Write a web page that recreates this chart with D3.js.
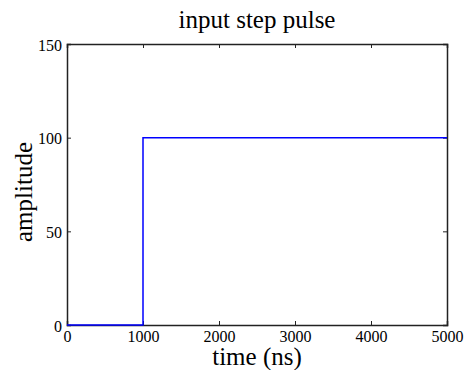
<!DOCTYPE html>
<html>
<head>
<meta charset="utf-8">
<script src="https://cdn.jsdelivr.net/npm/d3@7"></script>
<style>
  body { margin: 0; background: #fff; }
</style>
</head>
<body>
<div id="chart"></div>
<script>
// step pulse data
var timeNs = [0, 1000, 1000, 5000];
var amplitude = [0, 0, 100, 100];
var xTicks = [0, 1000, 2000, 3000, 4000, 5000];
var yTicks = [0, 50, 100, 150];

var W = 464, H = 370;
var serif = "'Liberation Serif', 'Times New Roman', serif";
var margin = { top: 44, right: 17, bottom: 45, left: 67 },
    width = W - margin.left - margin.right,
    height = H - margin.top - margin.bottom;

var svg = d3.select('#chart').append('svg')
    .attr("width", W)
    .attr("height", H)
    .append("g")
    .attr("transform", "translate(" + margin.left + "," + margin.top + ")");

var x = d3.scaleLinear().domain([0, 5000]).range([0, width]);
var y = d3.scaleLinear().domain([0, 150]).range([height, 0]);

// bottom axis with labels, ticks pointing inward
var xAxis = svg.append("g")
    .attr("transform", "translate(0," + height + ")")
    .call(d3.axisBottom(x).tickValues(xTicks).tickSize(-4).tickPadding(6).tickFormat(d3.format("d")));
// left axis
var yAxis = svg.append("g")
    .call(d3.axisLeft(y).tickValues(yTicks).tickSize(-4).tickPadding(5));
// top / right mirrored ticks
var xTop = svg.append("g")
    .call(d3.axisTop(x).tickValues(xTicks).tickSize(-4).tickFormat(""));
var yRight = svg.append("g")
    .attr("transform", "translate(" + width + ",0)")
    .call(d3.axisRight(y).tickValues(yTicks).tickSize(-4).tickFormat(""));

[xAxis, yAxis, xTop, yRight].forEach(function(g) {
    g.attr("font-family", null).attr("font-size", null);
    g.select(".domain").attr("stroke", "#222").attr("stroke-width", 1.5);
    g.selectAll(".tick line").attr("stroke", "#222").attr("stroke-width", 1);
    g.selectAll(".tick text")
        .style("font-family", serif)
        .style("font-size", "16px")
        .attr("fill", "#000");
});
yAxis.selectAll(".tick text").attr("dy", "0.38em");

// the pulse line
var line = d3.line()
    .x(function(d, i) { return x(timeNs[i]); })
    .y(function(d, i) { return y(amplitude[i]); });

svg.append("path")
    .datum(timeNs)
    .attr("d", line)
    .attr("fill", "none")
    .attr("stroke", "#0000ff")
    .attr("stroke-width", 1.5);

// title and axis labels
svg.append("text")
    .attr("x", width / 2)
    .attr("y", -16)
    .attr("text-anchor", "middle")
    .style("font-family", serif)
    .style("font-size", "25px")
    .text("input step pulse");

svg.append("text")
    .attr("x", width / 2)
    .attr("y", height + 40)
    .attr("text-anchor", "middle")
    .style("font-family", serif)
    .style("font-size", "25px")
    .text("time (ns)");

svg.append("text")
    .attr("transform", "rotate(-90)")
    .attr("x", -148)
    .attr("y", -35)
    .attr("text-anchor", "middle")
    .style("font-family", serif)
    .style("font-size", "25px")
    .text("amplitude");
</script>
</body>
</html>
